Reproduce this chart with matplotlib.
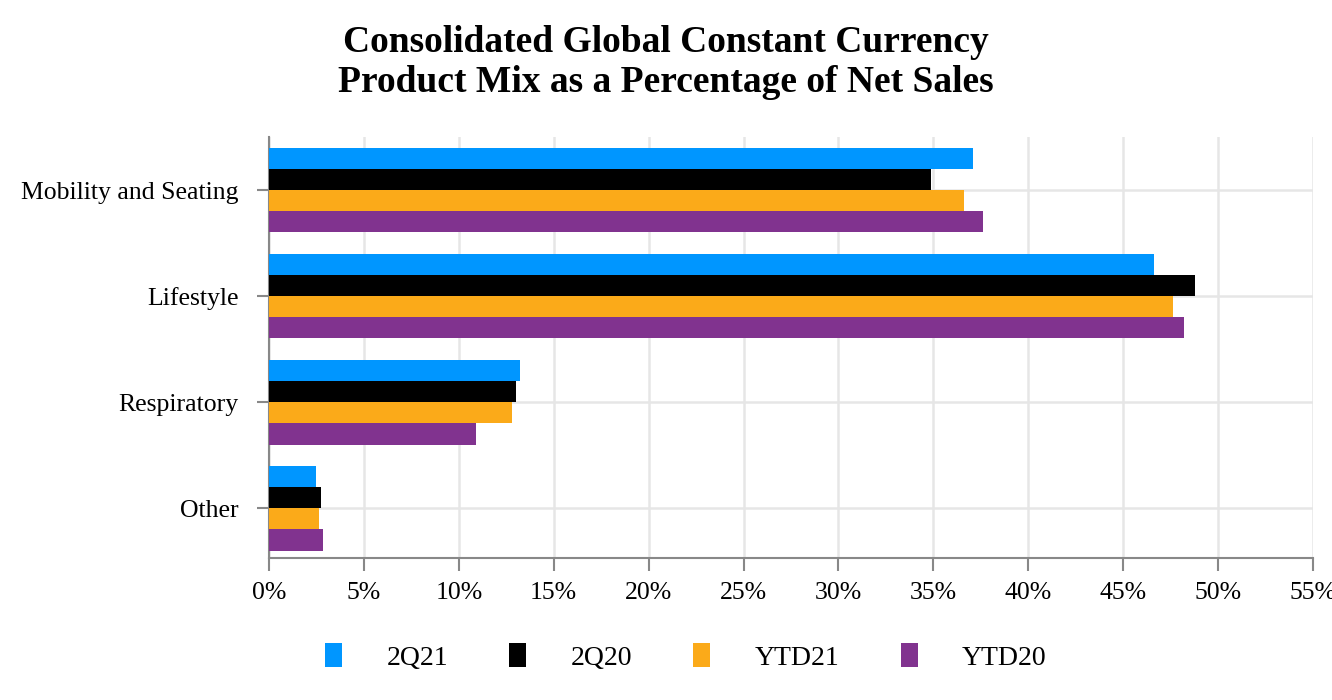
import numpy as np
import matplotlib.pyplot as plt
from matplotlib.ticker import FuncFormatter

# ---------------- data ----------------
categories = ["Mobility and Seating", "Lifestyle", "Respiratory", "Other"]
series_names = ["2Q21", "2Q20", "YTD21", "YTD20"]
q2_21 = [37.1, 46.6, 13.2, 2.5]
q2_20 = [34.9, 48.8, 13.0, 2.75]
ytd_21 = [36.6, 47.6, 12.8, 2.65]
ytd_20 = [37.6, 48.2, 10.9, 2.85]
x_ticks = [0, 5, 10, 15, 20, 25, 30, 35, 40, 45, 50, 55]

colors = ["#0096FF", "#000000", "#FBAA19", "#81338F"]

plt.rcParams['font.family'] = ['Liberation Serif', 'DejaVu Serif']

fig = plt.figure(figsize=(13.32, 7.0), dpi=100)
ax = fig.add_axes([269 / 1332, 1 - 558 / 700, (1313 - 269) / 1332, (558 - 137) / 700])

y = np.arange(len(categories))
bar_h = 0.2
all_series = [q2_21, q2_20, ytd_21, ytd_20]
for i, (vals, name) in enumerate(zip(all_series, series_names)):
    offset = (i - 1.5) * bar_h
    ax.barh(y + offset, vals, height=bar_h, color=colors[i], label=name, zorder=3)

ax.set_ylim(3.47, -0.5)
ax.set_xlim(0, 55)
ax.set_xticks(x_ticks)
ax.xaxis.set_major_formatter(FuncFormatter(lambda v, p: f"{v:.0f}%"))
ax.set_yticks(y)
ax.set_yticklabels(categories)

ax.grid(True, color="#E6E6E6", linewidth=1.8, zorder=0)
for s in ["top", "right"]:
    ax.spines[s].set_visible(False)
for s in ["left", "bottom"]:
    ax.spines[s].set_color("#888888")
    ax.spines[s].set_linewidth(1.5)
ax.tick_params(axis="both", colors="#888888", length=9, width=1.5, labelsize=18.5,
               labelcolor="black")
ax.tick_params(axis="x", pad=8)
ax.tick_params(axis="y", pad=13)

fig.suptitle("Consolidated Global Constant Currency\nProduct Mix as a Percentage of Net Sales",
             x=0.5, y=0.965, fontsize=27, fontweight="bold", linespacing=1.2)

leg = fig.legend(loc="center", bbox_to_anchor=(0.515, 1 - 657 / 700), ncol=4,
                 frameon=False, fontsize=20, handlelength=0.61, handleheight=0.94,
                 handletextpad=1.6, columnspacing=2.2)

fig.savefig("out.png", dpi=100)
